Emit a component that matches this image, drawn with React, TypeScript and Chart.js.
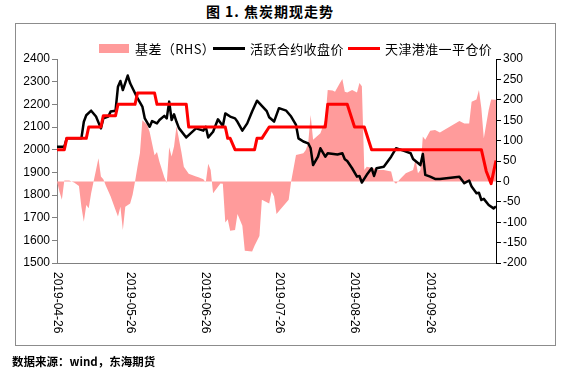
import React, { useEffect, useRef } from "react";
import { Chart, registerables } from "chart.js";

Chart.register(...registerables);

// ---------- data ----------
const startDate = "2019-04-26";
const endDate = "2019-10-23";
const xTickLabels = ["2019-04-26", "2019-05-26", "2019-06-26", "2019-07-26", "2019-08-26", "2019-09-26"];

const leftTicks = { min: 1500, max: 2400, step: 100 };
const rightTicks = { min: -200, max: 300, step: 50 };

// 活跃合约收盘价
const futuresDates = [
  "2019-04-26", "2019-04-29", "2019-04-30", "2019-05-06", "2019-05-07", "2019-05-08", "2019-05-10", "2019-05-12",
  "2019-05-14", "2019-05-15", "2019-05-17", "2019-05-18", "2019-05-20", "2019-05-21", "2019-05-22", "2019-05-23",
  "2019-05-25", "2019-05-26", "2019-05-28", "2019-05-29", "2019-05-31", "2019-06-01", "2019-06-03", "2019-06-04",
  "2019-06-06", "2019-06-07", "2019-06-09", "2019-06-10", "2019-06-11", "2019-06-12", "2019-06-13", "2019-06-14",
  "2019-06-15", "2019-06-18", "2019-06-22", "2019-06-25", "2019-06-26", "2019-06-27", "2019-06-29", "2019-07-01",
  "2019-07-03", "2019-07-04", "2019-07-06", "2019-07-08", "2019-07-09", "2019-07-11", "2019-07-13", "2019-07-15",
  "2019-07-17", "2019-07-19", "2019-07-21", "2019-07-22", "2019-07-24", "2019-07-26", "2019-07-29", "2019-07-31",
  "2019-08-02", "2019-08-03", "2019-08-05", "2019-08-07", "2019-08-08", "2019-08-09", "2019-08-11", "2019-08-12",
  "2019-08-14", "2019-08-15", "2019-08-19", "2019-08-21", "2019-08-22", "2019-08-23", "2019-08-25", "2019-08-27",
  "2019-08-28", "2019-08-29", "2019-08-31", "2019-09-02", "2019-09-03", "2019-09-04", "2019-09-07", "2019-09-10",
  "2019-09-12", "2019-09-15", "2019-09-18", "2019-09-19", "2019-09-22", "2019-09-23", "2019-09-24", "2019-09-26",
  "2019-09-28", "2019-09-30", "2019-10-08", "2019-10-10", "2019-10-12", "2019-10-13", "2019-10-15", "2019-10-16",
  "2019-10-17", "2019-10-18", "2019-10-20", "2019-10-22", "2019-10-23",
];
const futuresClose = [
  2013, 2013, 2050, 2050, 2123, 2152, 2172, 2146,
  2094, 2138, 2146, 2168, 2172, 2278, 2303, 2263,
  2327, 2293, 2249, 2227, 2190, 2138, 2101, 2126,
  2116, 2131, 2149, 2138, 2212, 2131, 2156, 2123,
  2095, 2054, 2094, 2084, 2101, 2054, 2079, 2134,
  2104, 2160, 2146, 2138, 2123, 2084, 2116, 2168,
  2216, 2193, 2170, 2143, 2124, 2183, 2172, 2146,
  2109, 2050, 2036, 2028, 2006, 1932, 1969, 2006,
  1969, 1984, 1979, 1984, 1958, 1950, 1918, 1881,
  1884, 1855, 1889, 1918, 1884, 1918, 1925, 1969,
  2006, 1996, 1984, 1959, 1932, 1981, 1889, 1881,
  1871, 1871, 1881, 1852, 1864, 1837, 1808, 1810,
  1778, 1783, 1756, 1741, 1749,
];

// 天津港准一平仓价
const spotDates = [
  "2019-04-26", "2019-04-29", "2019-04-30", "2019-05-08", "2019-05-09", "2019-05-14", "2019-05-15", "2019-05-20",
  "2019-05-21", "2019-05-28", "2019-05-29", "2019-06-05", "2019-06-06", "2019-06-18", "2019-06-19", "2019-07-04",
  "2019-07-05", "2019-07-06", "2019-07-08", "2019-07-16", "2019-07-17", "2019-07-19", "2019-07-22", "2019-08-14",
  "2019-08-15", "2019-08-23", "2019-08-26", "2019-08-30", "2019-09-02", "2019-10-17", "2019-10-19", "2019-10-21",
  "2019-10-23",
];
const spotPrice = [
  2000, 2000, 2050, 2050, 2100, 2100, 2150, 2150,
  2200, 2200, 2250, 2250, 2200, 2200, 2100, 2100,
  2050, 2050, 2000, 2000, 2050, 2050, 2100, 2100,
  2200, 2200, 2100, 2100, 2000, 2000, 1905, 1850,
  1952,
];

// 基差（RHS）
const basisDates = [
  "2019-04-26", "2019-04-27", "2019-04-28", "2019-04-29", "2019-05-01", "2019-05-03", "2019-05-05", "2019-05-06",
  "2019-05-07", "2019-05-08", "2019-05-09", "2019-05-10", "2019-05-11", "2019-05-12", "2019-05-13", "2019-05-14",
  "2019-05-15", "2019-05-16", "2019-05-18", "2019-05-20", "2019-05-21", "2019-05-22", "2019-05-23", "2019-05-24",
  "2019-05-26", "2019-05-27", "2019-05-28", "2019-05-29", "2019-05-30", "2019-05-31", "2019-06-02", "2019-06-03",
  "2019-06-05", "2019-06-06", "2019-06-07", "2019-06-09", "2019-06-10", "2019-06-11", "2019-06-12", "2019-06-13",
  "2019-06-14", "2019-06-16", "2019-06-17", "2019-06-19", "2019-06-22", "2019-06-23", "2019-06-25", "2019-06-26",
  "2019-06-27", "2019-06-28", "2019-06-29", "2019-07-02", "2019-07-03", "2019-07-04", "2019-07-05", "2019-07-06",
  "2019-07-08", "2019-07-09", "2019-07-11", "2019-07-12", "2019-07-15", "2019-07-16", "2019-07-18", "2019-07-19",
  "2019-07-22", "2019-07-23", "2019-07-24", "2019-07-25", "2019-07-27", "2019-07-30", "2019-07-31", "2019-08-02",
  "2019-08-05", "2019-08-06", "2019-08-07", "2019-08-08", "2019-08-09", "2019-08-12", "2019-08-14", "2019-08-15",
  "2019-08-17", "2019-08-18", "2019-08-20", "2019-08-21", "2019-08-22", "2019-08-23", "2019-08-25", "2019-08-27",
  "2019-08-28", "2019-08-29", "2019-08-30", "2019-08-31", "2019-09-03", "2019-09-04", "2019-09-07", "2019-09-10",
  "2019-09-11", "2019-09-12", "2019-09-14", "2019-09-16", "2019-09-19", "2019-09-20", "2019-09-21", "2019-09-22",
  "2019-09-23", "2019-09-24", "2019-09-26", "2019-09-28", "2019-09-30", "2019-10-08", "2019-10-10", "2019-10-12",
  "2019-10-13", "2019-10-15", "2019-10-16", "2019-10-17", "2019-10-18", "2019-10-20", "2019-10-21", "2019-10-23",
];
const basisValues = [
  0, -25, -45, 2, 2, -3, -11, -62,
  -99, -58, -66, -29, 0, 28, 57, 12,
  5, -10, -37, -70, -86, -62, -119, -62,
  -54, -33, 0, 36, 69, 150, 138, 121,
  64, 72, 48, 10, -4, 84, 61, 86,
  135, 72, 36, 19, 12, 10, 5, -3,
  43, 28, -29, -5, -6, -101, -93, -121,
  -119, -80, -109, -170, -172, -158, -134, -45,
  -54, -25, -37, -80, -66, -45, 0, 65,
  69, 77, 94, 163, 102, 118, 151, 224,
  223, 220, 241, 251, 220, 218, 224, 218,
  241, 233, 28, 36, 32, 28, 28, 24,
  0, -6, 8, 20, 28, 53, 20, 28,
  110, 102, 124, 126, 120, 148, 142, 142,
  195, 201, 224, 179, 106, 175, 201, 200,
];

// ---------- helpers ----------
const DAY = 86400000;
const toDay = (s: string) => (Date.parse(s) - Date.parse(startDate)) / DAY;
const toPoints = (dates: string[], vals: number[]) => dates.map((d, i) => ({ x: toDay(d), y: vals[i] }));

const AXIS_FONT = '"Liberation Sans", Arial, sans-serif';
const CJK_FONT = '"Noto Sans CJK SC", "Noto Sans", sans-serif';

const xLabelPlugin = {
  id: "rotatedDateLabels",
  afterDraw(chart: any) {
    const { ctx } = chart;
    const xs = chart.scales.x;
    ctx.save();
    ctx.font = `12px ${AXIS_FONT}`;
    ctx.fillStyle = "#000";
    ctx.textAlign = "left";
    ctx.textBaseline = "middle";
    xTickLabels.forEach((lbl) => {
      const px = xs.getPixelForValue(toDay(lbl));
      ctx.save();
      ctx.translate(px, xs.top + 9);
      ctx.rotate(Math.PI / 2);
      ctx.fillText(lbl, 0, 0);
      ctx.restore();
    });
    ctx.restore();
  },
};

export default function App() {
  const canvasRef = useRef<HTMLCanvasElement | null>(null);

  useEffect(() => {
    if (!canvasRef.current) return;
    const chart = new Chart(canvasRef.current, {
      type: "line",
      data: {
        datasets: [
          {
            label: "天津港准一平仓价",
            data: toPoints(spotDates, spotPrice),
            borderColor: "#FF0000",
            borderWidth: 3,
            pointRadius: 0,
            fill: false,
            yAxisID: "y",
            order: 0,
            borderJoinStyle: "round",
          },
          {
            label: "活跃合约收盘价",
            data: toPoints(futuresDates, futuresClose),
            borderColor: "#000000",
            borderWidth: 2.5,
            pointRadius: 0,
            fill: false,
            yAxisID: "y",
            order: 1,
            borderJoinStyle: "round",
          },
          {
            label: "基差（RHS）",
            data: toPoints(basisDates, basisValues),
            borderColor: "rgba(0,0,0,0)",
            borderWidth: 0,
            backgroundColor: "#FF9B9B",
            pointRadius: 0,
            fill: "origin",
            yAxisID: "y1",
            order: 2,
          },
        ],
      },
      options: {
        animation: false,
        responsive: false,
        maintainAspectRatio: false,
        layout: { padding: { top: 59, left: 0, right: 0, bottom: 0 } },
        elements: { line: { tension: 0 }, point: { radius: 0 } },
        plugins: {
          legend: { display: false },
          tooltip: { enabled: false },
          title: { display: false },
        },
        scales: {
          x: {
            type: "linear",
            min: 0,
            max: toDay(endDate),
            ticks: { display: false },
            grid: { display: false, drawTicks: false },
            border: { display: true, color: "#808080", width: 1 },
            afterFit: (s: any) => {
              s.height = 109;
            },
          },
          y: {
            position: "left",
            min: leftTicks.min,
            max: leftTicks.max,
            ticks: {
              stepSize: leftTicks.step,
              color: "#000",
              padding: 2,
              font: { family: AXIS_FONT, size: 12 },
              callback: (v: any) => String(v),
            },
            grid: { drawOnChartArea: false, drawTicks: true, tickLength: 5, color: "#808080" },
            border: { display: true, color: "#808080", width: 1 },
            afterFit: (s: any) => {
              s.width = 57;
            },
          },
          y1: {
            position: "right",
            min: rightTicks.min,
            max: rightTicks.max,
            ticks: {
              stepSize: rightTicks.step,
              color: "#000",
              padding: 2,
              font: { family: AXIS_FONT, size: 12 },
              callback: (v: any) => String(v),
            },
            grid: { drawOnChartArea: false, drawTicks: true, tickLength: 5, color: "#000" },
            border: { display: true, color: "#000", width: 1 },
            afterFit: (s: any) => {
              s.width = 75;
            },
          },
        },
      },
      plugins: [xLabelPlugin],
    } as any);
    return () => chart.destroy();
  }, []);

  const legendText: React.CSSProperties = {
    position: "absolute",
    top: 40,
    height: 17,
    lineHeight: "17px",
    fontFamily: CJK_FONT,
    fontSize: 13,
    letterSpacing: 0.4,
    color: "#000",
    whiteSpace: "nowrap",
  };

  return (
    <div style={{ position: "absolute", left: 0, top: 0, width: 571, height: 372, background: "#fff", overflow: "hidden" }}>
      <div
        style={{
          position: "absolute",
          left: 0,
          top: 1,
          width: 540,
          textAlign: "center",
          fontFamily: CJK_FONT,
          fontWeight: 700,
          fontSize: 14,
          lineHeight: "20px",
          letterSpacing: 1,
          whiteSpace: "pre",
          color: "#000",
        }}
      >
        图 1. 焦炭期现走势
      </div>
      <div
        style={{
          position: "absolute",
          left: 15,
          top: 23,
          width: 541,
          height: 323,
          border: "1px solid #8c8c8c",
          boxSizing: "border-box",
        }}
      />
      <canvas ref={canvasRef} width={571} height={372} style={{ position: "absolute", left: 0, top: 0, width: 571, height: 372 }} />
      <div style={{ position: "absolute", left: 99, top: 44, width: 30, height: 9, background: "#FF9B9B" }} />
      <div style={{ ...legendText, left: 135 }}>基差（RHS）</div>
      <div style={{ position: "absolute", left: 213, top: 47, width: 32, height: 3, background: "#000" }} />
      <div style={{ ...legendText, left: 250 }}>活跃合约收盘价</div>
      <div style={{ position: "absolute", left: 348, top: 47, width: 32, height: 3, background: "#FF0000" }} />
      <div style={{ ...legendText, left: 385 }}>天津港准一平仓价</div>
      <div
        style={{
          position: "absolute",
          left: 12,
          top: 353,
          height: 17,
          lineHeight: "17px",
          fontFamily: CJK_FONT,
          fontWeight: 700,
          fontSize: 11.5,
          color: "#000",
          whiteSpace: "nowrap",
        }}
      >
        数据来源：wind，东海期货
      </div>
    </div>
  );
}
